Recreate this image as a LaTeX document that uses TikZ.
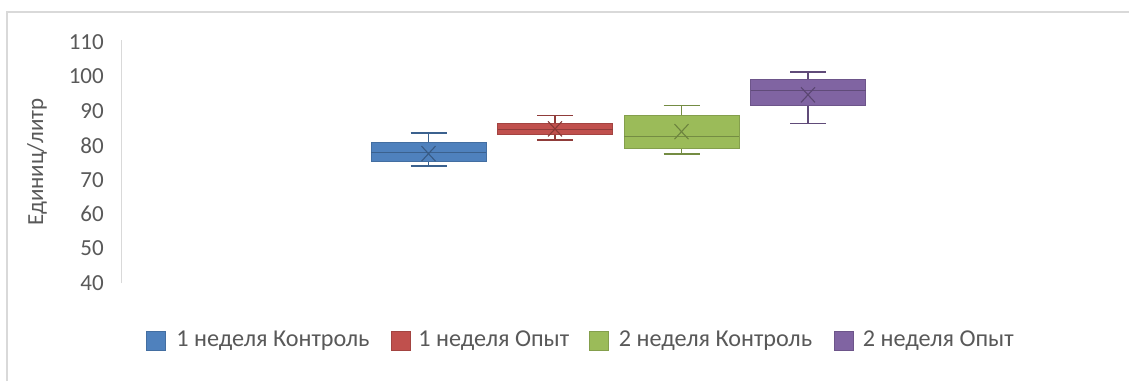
\documentclass[tikz,border=0pt]{standalone}
\usepackage{fontspec}
\setmainfont{Carlito}
\usetikzlibrary{positioning}
\definecolor{txtGray}{HTML}{595959}
\definecolor{axGray}{HTML}{D9D9D9}
\definecolor{cBlue}{HTML}{4F81BD}
\definecolor{cRed}{HTML}{C0504D}
\definecolor{cGreen}{HTML}{9BBB59}
\definecolor{cPurple}{HTML}{8064A2}
\begin{document}
\begin{tikzpicture}[x=1pt,y=1pt]

\tikzstyle{tickLbl}=[anchor=east,inner sep=0pt,text=txtGray,font=\fontsize{23}{26}\selectfont];
\tikzstyle{legBox}=[rectangle,minimum size=19pt,inner sep=0pt];
\tikzstyle{legTxt}=[inner sep=0pt,text=txtGray,font=\fontsize{24.2}{27}\selectfont];

\useasboundingbox (0,0) rectangle (1129,-381);
\fill [white] (0,0) rectangle (1129,-381);
\draw [axGray,line width=1.5pt] (7,-381) -- (7,-12) -- (1129,-12);

\node [rotate=90,text=txtGray,inner sep=0pt,font=\fontsize{23}{26}\selectfont] (yTitle) at (37,-162) {Единиц/литр};

% plot area: y in units per litre
\begin{scope}[yshift=-420.6pt,y=3.44pt]
\draw [axGray,line width=0.8pt] (121,40) -- (121,110.5);
\foreach \v in {40,50,...,110}{
	\node [tickLbl] (t\v) at (104,\v) {\v};
};

\foreach \cx/\lo/\qa/\md/\qb/\hi/\mn/\c in {428.5/74/75.2/77.8/80.8/83.6/77.6/cBlue,555/81.6/83.2/84.7/86.4/88.6/84.8/cRed,681.5/77.5/79.2/82.7/88.6/91.6/84/cGreen,808/86.4/91.5/96.1/99.2/101.3/94.7/cPurple}{
	\draw [\c!75!black,line width=1.3pt] (\cx-18,\lo) -- (\cx+18,\lo) (\cx,\lo) -- (\cx,\qa)
		(\cx,\qb) -- (\cx,\hi) (\cx-18,\hi) -- (\cx+18,\hi);
	\filldraw [fill=\c,draw=\c!85!black,line width=1pt] (\cx-57.5,\qa) rectangle (\cx+57.5,\qb);
	\draw [\c!75!black,line width=1pt] (\cx-57.5,\md) -- (\cx+57.5,\md);
	\draw [\c!70!black,line width=1.1pt] (\cx-7,\mn-2.2) -- (\cx+7,\mn+2.2) (\cx-7,\mn+2.2) -- (\cx+7,\mn-2.2);
};
\end{scope}

% legend
\node [legBox,fill=cBlue,draw=cBlue!85!black] (lb1) at (155.5,-341) {};
\node [legTxt,right=11pt of lb1] (lt1) {1 неделя Контроль};
\node [legBox,fill=cRed,draw=cRed!85!black,right=21pt of lt1] (lb2) {};
\node [legTxt,right=8pt of lb2] (lt2) {1 неделя Опыт};
\node [legBox,fill=cGreen,draw=cGreen!85!black,right=20pt of lt2] (lb3) {};
\node [legTxt,right=10pt of lb3] (lt3) {2 неделя Контроль};
\node [legBox,fill=cPurple,draw=cPurple!85!black,right=22pt of lt3] (lb4) {};
\node [legTxt,right=9pt of lb4] (lt4) {2 неделя Опыт};

\end{tikzpicture}
\end{document}
